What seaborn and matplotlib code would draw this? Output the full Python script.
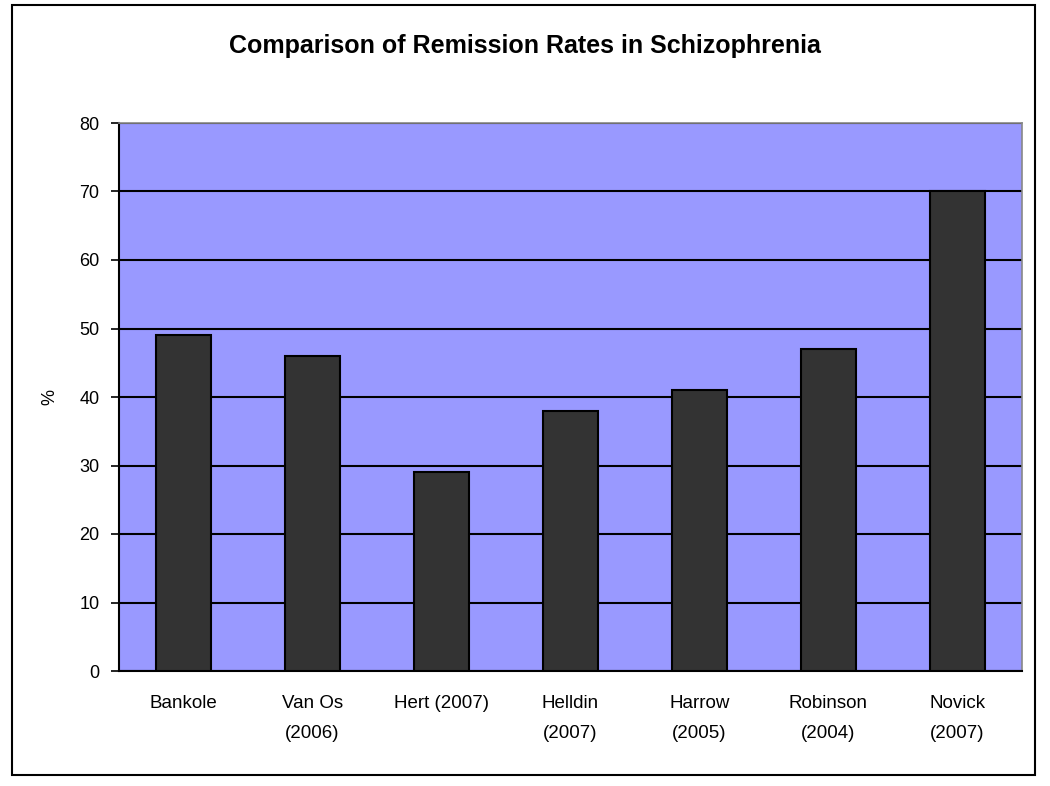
import matplotlib
matplotlib.use("Agg")
import matplotlib.pyplot as plt
import seaborn as sns
import pandas as pd
import numpy as np
from matplotlib.patches import Rectangle

categories = ["Bankole", "Van Os\n(2006)", "Hert (2007)", "Helldin\n(2007)",
              "Harrow\n(2005)", "Robinson\n(2004)", "Novick\n(2007)"]
values = [49, 46, 29, 38, 41, 47, 70]
yticks = [0, 10, 20, 30, 40, 50, 60, 70, 80]

sns.set_theme(style="white")
plt.rcParams['font.family'] = ['Liberation Sans', 'DejaVu Sans']
plt.rcParams['text.color'] = 'black'
plt.rcParams['axes.labelcolor'] = 'black'
plt.rcParams['xtick.color'] = 'black'
plt.rcParams['ytick.color'] = 'black'

fig = plt.figure(figsize=(10.5, 7.86), dpi=100)
ax = fig.add_axes([119/1050, 1-671/786, (1022-119)/1050, (671-123)/786])

df = pd.DataFrame({"cat": categories, "val": values})
sns.barplot(data=df, x="cat", y="val", ax=ax, color="#333333", width=0.42,
            edgecolor="black", linewidth=1.5, saturation=1, zorder=3)

ax.set_facecolor("#9999FF")
ax.set_ylim(0, 80)
ax.set_xlim(-0.5, len(categories) - 0.5)
ax.set_yticks(yticks)
ax.set_yticklabels([str(t) for t in yticks], fontsize=13)
ax.yaxis.grid(True, color="black", linewidth=1.5, zorder=1)
ax.set_axisbelow(True)

ax.set_xticks(range(len(categories)))
ax.set_xticklabels(categories, fontsize=13.5, linespacing=2.0)
ax.set_xticks(np.arange(-0.5, len(categories) + 0.5, 1), minor=True)
ax.tick_params(axis="x", which="major", length=0, pad=17)
ax.tick_params(axis="x", which="minor", length=6, width=1.2, color="black", direction="out")
ax.tick_params(axis="y", which="major", length=6, width=1.2, color="black",
               direction="out", left=True, pad=8)

for s in ["left", "bottom"]:
    ax.spines[s].set_color("black")
    ax.spines[s].set_linewidth(1.5)
for s in ["right", "top"]:
    ax.spines[s].set_color("#888888")
    ax.spines[s].set_linewidth(1.2)

ax.set_xlabel("")
ax.set_ylabel("%", fontsize=13, labelpad=15)
fig.text(0.5, 1 - 46/786, "Comparison of Remission Rates in Schizophrenia",
         ha="center", va="center", fontsize=18, fontweight="bold")

fig.patches.append(Rectangle((12/1050, 1-775/786), (1035-12)/1050, (775-5)/786,
                             transform=fig.transFigure, fill=False,
                             edgecolor="black", linewidth=1.5))

fig.savefig("out.png", dpi=100, facecolor="white")
